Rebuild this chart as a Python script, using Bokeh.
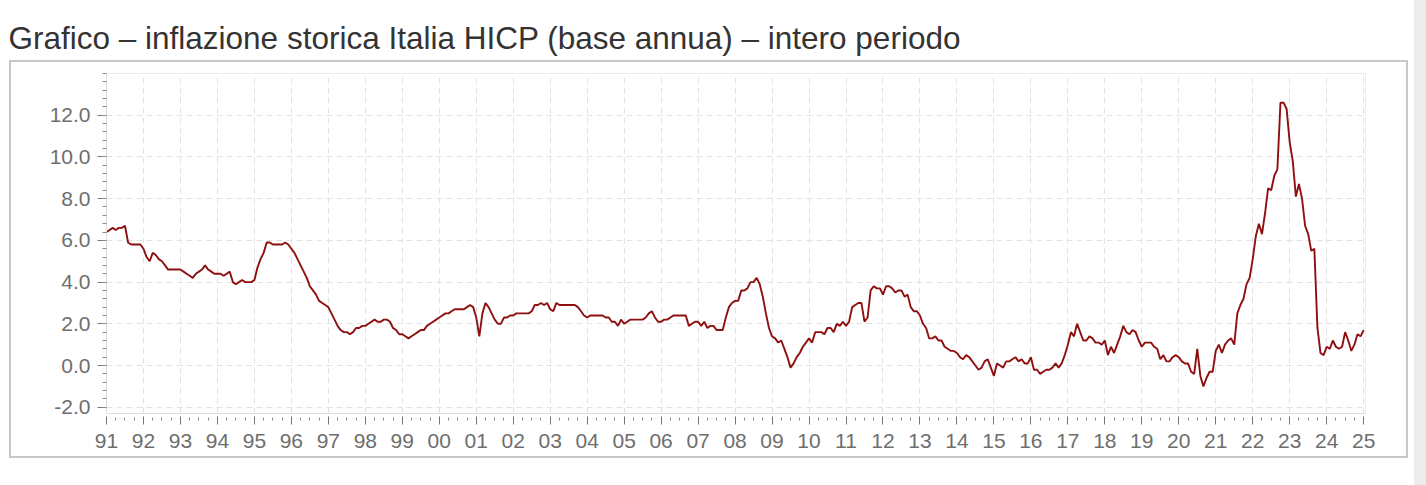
import numpy as np
from bokeh.plotting import figure
from bokeh.models import (FixedTicker, PrintfTickFormatter,
                          CustomJSTickFormatter, Range1d, ColumnDataSource)
from bokeh.embed import file_html
from bokeh.resources import INLINE

TITLE = "Grafico – inflazione storica Italia HICP (base annua) – intero periodo"
start_year = 1991

# monthly year-on-year HICP inflation (%), Jan..Dec
y1991 = [6.4, 6.5, 6.6, 6.5, 6.6, 6.6, 6.7, 5.9, 5.8, 5.8, 5.8, 5.8]
y1992 = [5.6, 5.2, 5.0, 5.4, 5.3, 5.1, 5.0, 4.8, 4.6, 4.6, 4.6, 4.6]
y1993 = [4.6, 4.5, 4.4, 4.3, 4.2, 4.4, 4.5, 4.6, 4.8, 4.6, 4.5, 4.4]
y1994 = [4.4, 4.4, 4.3, 4.4, 4.5, 4.0, 3.9, 4.0, 4.1, 4.0, 4.0, 4.0]
y1995 = [4.1, 4.7, 5.1, 5.4, 5.9, 5.9, 5.8, 5.8, 5.8, 5.8, 5.9, 5.8]
y1996 = [5.6, 5.4, 5.1, 4.8, 4.5, 4.2, 3.8, 3.6, 3.4, 3.1, 3.0, 2.9]
y1997 = [2.8, 2.5, 2.2, 1.9, 1.7, 1.6, 1.6, 1.5, 1.6, 1.8, 1.8, 1.9]
y1998 = [1.9, 2.0, 2.1, 2.2, 2.1, 2.1, 2.2, 2.2, 2.1, 1.8, 1.7, 1.5]
y1999 = [1.5, 1.4, 1.3, 1.4, 1.5, 1.6, 1.7, 1.7, 1.9, 2.0, 2.1, 2.2]
y2000 = [2.3, 2.4, 2.5, 2.5, 2.6, 2.7, 2.7, 2.7, 2.7, 2.8, 2.9, 2.8]
y2001 = [2.3, 1.4, 2.5, 3.0, 2.8, 2.5, 2.2, 2.0, 2.0, 2.3, 2.3, 2.4]
y2002 = [2.4, 2.5, 2.5, 2.5, 2.5, 2.5, 2.6, 2.9, 2.9, 3.0, 2.9, 3.0]
y2003 = [2.7, 2.6, 3.0, 2.9, 2.9, 2.9, 2.9, 2.9, 2.9, 2.8, 2.6, 2.4]
y2004 = [2.3, 2.4, 2.4, 2.4, 2.4, 2.4, 2.3, 2.3, 2.1, 2.1, 1.9, 2.2]
y2005 = [2.0, 2.1, 2.2, 2.2, 2.2, 2.2, 2.2, 2.3, 2.5, 2.6, 2.3, 2.1]
y2006 = [2.1, 2.2, 2.2, 2.3, 2.4, 2.4, 2.4, 2.4, 2.4, 1.9, 2.0, 2.1]
y2007 = [2.1, 1.9, 2.1, 1.8, 1.9, 1.9, 1.7, 1.7, 1.7, 2.3, 2.8, 3.0]
y2008 = [3.1, 3.1, 3.6, 3.6, 3.7, 4.0, 4.0, 4.2, 3.9, 3.3, 2.5, 1.8]
y2009 = [1.4, 1.3, 1.1, 1.2, 0.8, 0.4, -0.1, 0.1, 0.4, 0.6, 0.9, 1.1]
y2010 = [1.3, 1.1, 1.6, 1.6, 1.6, 1.5, 1.8, 1.8, 1.6, 2.0, 1.9, 2.1]
y2011 = [1.9, 2.1, 2.8, 2.9, 3.0, 3.0, 2.1, 2.3, 3.6, 3.8, 3.7, 3.7]
y2012 = [3.4, 3.8, 3.8, 3.7, 3.5, 3.6, 3.6, 3.3, 3.4, 2.8, 2.6, 2.6]
y2013 = [2.4, 2.0, 1.8, 1.3, 1.3, 1.4, 1.2, 1.2, 0.9, 0.8, 0.7, 0.7]
y2014 = [0.6, 0.4, 0.3, 0.5, 0.4, 0.2, 0.0, -0.2, -0.1, 0.2, 0.3, -0.1]
y2015 = [-0.5, 0.1, 0.0, -0.1, 0.2, 0.2, 0.3, 0.4, 0.2, 0.3, 0.1, 0.1]
y2016 = [0.4, -0.2, -0.2, -0.4, -0.3, -0.2, -0.2, -0.1, 0.1, -0.1, 0.1, 0.5]
y2017 = [1.0, 1.6, 1.4, 2.0, 1.6, 1.2, 1.2, 1.4, 1.3, 1.1, 1.1, 1.0]
y2018 = [1.2, 0.5, 0.9, 0.6, 1.0, 1.4, 1.9, 1.6, 1.5, 1.7, 1.6, 1.2]
y2019 = [0.9, 1.1, 1.1, 1.1, 0.9, 0.8, 0.3, 0.5, 0.2, 0.2, 0.4, 0.5]
y2020 = [0.4, 0.2, 0.1, 0.1, -0.3, -0.4, 0.8, -0.5, -1.0, -0.6, -0.3, -0.3]
y2021 = [0.7, 1.0, 0.6, 1.0, 1.2, 1.3, 1.0, 2.5, 2.9, 3.2, 3.9, 4.2]
y2022 = [5.1, 6.2, 6.8, 6.3, 7.3, 8.5, 8.4, 9.1, 9.4, 12.6, 12.6, 12.3]
y2023 = [10.7, 9.8, 8.1, 8.7, 8.0, 6.7, 6.3, 5.5, 5.6, 1.8, 0.6, 0.5]
y2024 = [0.9, 0.8, 1.2, 0.9, 0.8, 0.9, 1.6, 1.2, 0.7, 1.0, 1.5, 1.4]
y2025 = [1.7]

year_ticks = list(range(1991, 2026))
y_ticks = [-2.0, 0.0, 2.0, 4.0, 6.0, 8.0, 10.0, 12.0]

series = (y1991 + y1992 + y1993 + y1994 + y1995 + y1996 + y1997 + y1998 +
          y1999 + y2000 + y2001 + y2002 + y2003 + y2004 + y2005 + y2006 +
          y2007 + y2008 + y2009 + y2010 + y2011 + y2012 + y2013 + y2014 +
          y2015 + y2016 + y2017 + y2018 + y2019 + y2020 + y2021 + y2022 +
          y2023 + y2024 + y2025)
dates = [start_year + i / 12.0 for i in range(len(series))]
src = ColumnDataSource(dict(t=dates, v=series))

p = figure(width=1426, height=480,
           x_range=Range1d(1991, 2025.05), y_range=Range1d(-2.3, 14.0),
           output_backend="svg", toolbar_location=None,
           min_border_left=106, min_border_right=61,
           min_border_top=73, min_border_bottom=67)

p.background_fill_color = "white"
p.border_fill_color = "white"
p.outline_line_color = "#ececec"

# light-grey box around the chart area and page stripe at right (CSS only)
p.stylesheets = ["""
:host { position: relative; }
:host::after {
  content: ""; position: absolute; left: 9px; top: 60px;
  width: 1399px; height: 398px; box-sizing: border-box;
  border: 2px solid #c8c8c8; pointer-events: none; z-index: 20;
}
:host::before {
  content: ""; position: absolute; left: 1414px; top: 0px;
  width: 12px; height: 485px; background: #ececec;
  pointer-events: none; z-index: 20;
}
"""]

# title
p.title.text = TITLE
p.title.text_font = "Liberation Sans"
p.title.text_font_size = "31.5px"
p.title.text_font_style = "normal"
p.title.text_color = "#333333"
p.title.align = "left"
p.title.offset = -98
p.title.standoff = 35

# x axis
minor_x = [y + q / 4 for y in year_ticks for q in (1, 2, 3)]
p.xaxis.ticker = FixedTicker(ticks=year_ticks, minor_ticks=minor_x)
p.xaxis.formatter = CustomJSTickFormatter(code="""
const v = Math.round(tick) % 100;
return (v < 10 ? '0' : '') + v;
""")
# y axis
minor_y = [round(-2.0 + 0.4 * k, 2) for k in range(0, 41) if -2.3 <= -2.0 + 0.4 * k <= 14.0]
p.yaxis.ticker = FixedTicker(ticks=y_ticks, minor_ticks=minor_y)
p.yaxis.formatter = PrintfTickFormatter(format="%.1f")

for ax in (p.xaxis[0], p.yaxis[0]):
    ax.axis_line_color = "#dddddd"
    ax.major_tick_line_color = "#777777"
    ax.minor_tick_line_color = "#8a8a8a"
    ax.major_label_text_font = "Liberation Sans"
    ax.major_label_text_font_size = "21px"
    ax.major_label_text_color = "#6e6e6e"

p.xaxis.major_tick_in = -3
p.xaxis.major_tick_out = 11
p.xaxis.minor_tick_in = -4
p.xaxis.minor_tick_out = 7
p.xaxis.major_label_standoff = 9

p.yaxis.major_tick_in = -2
p.yaxis.major_tick_out = 9
p.yaxis.minor_tick_in = 0
p.yaxis.minor_tick_out = 4
p.yaxis.major_label_standoff = 7

for g in (p.xgrid[0], p.ygrid[0]):
    g.grid_line_color = "#e2e2e2"
    g.grid_line_dash = "6 4"
    g.grid_line_width = 1

p.line("t", "v", source=src, line_color="#8e0f0f", line_width=1.9)

open("out.html", "w").write(file_html(p, INLINE))
